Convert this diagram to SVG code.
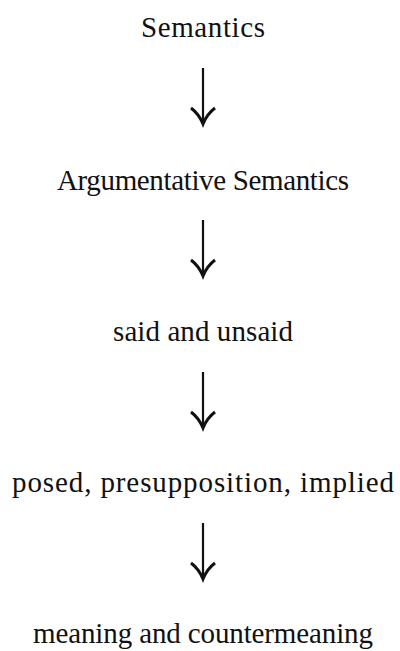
<svg xmlns="http://www.w3.org/2000/svg" width="400" height="651" viewBox="0 0 400 651">
  <defs>
    <style>
      .label { font-size: 29px; fill: #111; text-anchor: middle; }
      .shaft { stroke: #111; stroke-width: 2.2; fill: none; }
      .head { stroke: #111; stroke-width: 3; fill: none; stroke-linecap: butt; stroke-linejoin: miter; }
    </style>
  </defs>
  <rect width="400" height="651" fill="#fff"/>

  <g id="node-semantics"><text class="label" font-family="'Liberation Serif', 'DejaVu Serif', serif" x="203" y="37" textLength="124" lengthAdjust="spacing">Semantics</text></g>
  <g id="node-argumentative"><text class="label" font-family="'Liberation Serif', 'DejaVu Serif', serif" x="203" y="190" textLength="292" lengthAdjust="spacing">Argumentative Semantics</text></g>
  <g id="node-said"><text class="label" font-family="'Liberation Serif', 'DejaVu Serif', serif" x="203" y="341" textLength="180" lengthAdjust="spacing">said and unsaid</text></g>
  <g id="node-posed"><text class="label" font-family="'Liberation Serif', 'DejaVu Serif', serif" x="203" y="492" textLength="382" lengthAdjust="spacing">posed, presupposition, implied</text></g>
  <g id="node-meaning"><text class="label" font-family="'Liberation Serif', 'DejaVu Serif', serif" x="203" y="643" textLength="340" lengthAdjust="spacing">meaning and countermeaning</text></g>

  <g id="connectors">
    <g transform="translate(203,68)">
      <path class="shaft" d="M0 0 V54"/>
      <path class="head" d="M-12 40 Q-4 46 0 56 Q4 46 12 40"/>
    </g>
    <g transform="translate(203,220)">
      <path class="shaft" d="M0 0 V54"/>
      <path class="head" d="M-12 40 Q-4 46 0 56 Q4 46 12 40"/>
    </g>
    <g transform="translate(203,372)">
      <path class="shaft" d="M0 0 V54"/>
      <path class="head" d="M-12 40 Q-4 46 0 56 Q4 46 12 40"/>
    </g>
    <g transform="translate(203,523)">
      <path class="shaft" d="M0 0 V54"/>
      <path class="head" d="M-12 40 Q-4 46 0 56 Q4 46 12 40"/>
    </g>
  </g>
</svg>
